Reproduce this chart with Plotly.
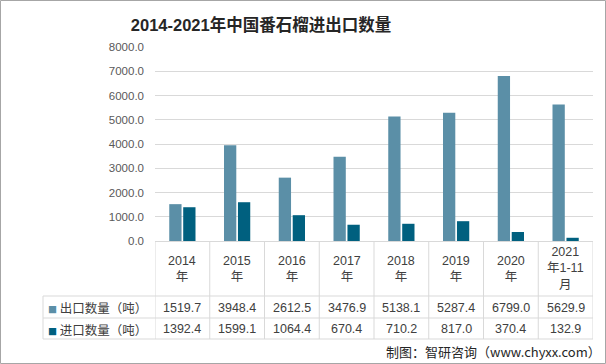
import plotly.graph_objects as go

categories = ["2014年", "2015年", "2016年", "2017年", "2018年", "2019年", "2020年", "2021年1-11月"]
header_labels = ["2014<br>年", "2015<br>年", "2016<br>年", "2017<br>年", "2018<br>年", "2019<br>年", "2020<br>年", "2021<br>年1-11<br>月"]
export_vals = [1519.7, 3948.4, 2612.5, 3476.9, 5138.1, 5287.4, 6799.0, 5629.9]
import_vals = [1392.4, 1599.1, 1064.4, 670.4, 710.2, 817.0, 370.4, 132.9]
series_names = ["出口数量（吨）", "进口数量（吨）"]
y_ticks = [0, 1000, 2000, 3000, 4000, 5000, 6000, 7000, 8000]

C_EXP = "#5B8FA7"
C_IMP = "#00607F"
TXT = "#404040"
GRID = "#D9D9D9"
FONT = "Liberation Sans, Noto Sans CJK SC, sans-serif"
CJK = "Noto Sans CJK SC, sans-serif"

W, H = 606, 364
L, R, T, B = 155, 13, 47, 123
PH = H - T - B  # 194


def py(pix):
    return (H - B - pix) / PH


def px(pix):
    return (pix - L) / (W - L - R)


fig = go.Figure()
fig.add_trace(go.Bar(x=categories, y=export_vals, name=series_names[0], marker_color=C_EXP,
                     marker_line_width=0))
fig.add_trace(go.Bar(x=categories, y=import_vals, name=series_names[1], marker_color=C_IMP,
                     marker_line_width=0))

shapes = []
ann = []
n = len(categories)
for i in range(n + 1):
    shapes.append(dict(type="line", xref="x", yref="paper", x0=i - 0.5, x1=i - 0.5,
                       y0=0, y1=py(339), line=dict(color=GRID, width=1)))
for yy in [296, 318, 339]:
    shapes.append(dict(type="line", xref="paper", yref="paper", x0=px(43), x1=1,
                       y0=py(yy), y1=py(yy), line=dict(color=GRID, width=1)))
shapes.append(dict(type="line", xref="paper", yref="paper", x0=px(43), x1=px(43),
                   y0=py(296), y1=py(339), line=dict(color=GRID, width=1)))
shapes.append(dict(type="rect", xref="paper", yref="paper", x0=px(0.5), x1=px(W - 0.5),
                   y0=py(H - 0.5), y1=py(0.5), line=dict(color="#A6A6A6", width=1)))

for i, cat in enumerate(categories):
    lab = header_labels[i]
    nlines = lab.count("<br>") + 1
    cy = 268.5 if nlines == 3 else 269
    ann.append(dict(x=cat, y=py(cy), xref="x", yref="paper", text=lab, showarrow=False,
                    font=dict(size=12.5, color=TXT, family=FONT), align="center",
                    yanchor="middle"))
    ann.append(dict(x=cat, y=py(307.5), xref="x", yref="paper", text=f"{export_vals[i]:.1f}",
                    showarrow=False, font=dict(size=12.5, color=TXT, family=FONT), yanchor="middle"))
    ann.append(dict(x=cat, y=py(329), xref="x", yref="paper", text=f"{import_vals[i]:.1f}",
                    showarrow=False, font=dict(size=12.5, color=TXT, family=FONT), yanchor="middle"))

for nm, col, yy in [(series_names[0], C_EXP, 307.5), (series_names[1], C_IMP, 329)]:
    ann.append(dict(x=px(46), y=py(yy), xref="paper", yref="paper",
                    text=f"<span style='color:{col};font-size:9px'>■</span> {nm}",
                    showarrow=False, xanchor="left", yanchor="middle",
                    font=dict(size=12.5, color=TXT, family=CJK)))

ann.append(dict(x=px(603), y=py(351.5), xref="paper", yref="paper",
                text="制图：智研咨询（www.chyxx.com）", showarrow=False, xanchor="right",
                yanchor="middle", font=dict(size=13, color="#262626", family=CJK)))

fig.update_layout(
    width=W, height=H,
    margin=dict(l=L, r=R, t=T, b=B, pad=0),
    paper_bgcolor="white", plot_bgcolor="white",
    title=dict(text="<b>2014-2021年中国番石榴进出口数量</b>", x=px(261), xref="paper",
               xanchor="center", y=1 - 25 / H, yanchor="middle",
               font=dict(size=16.5, color="#262626", family=FONT)),
    showlegend=False,
    barmode="group", bargap=0.49, bargroupgap=0.12,
    xaxis=dict(showticklabels=False, showline=True, linecolor=GRID, ticks="",
               showgrid=False, range=[-0.5, n - 0.5]),
    yaxis=dict(range=[0, 8000], tickvals=y_ticks, tickformat=".1f", showgrid=True,
               gridcolor=GRID, zeroline=False, showline=False, ticks="",
               ticklabelstandoff=10,
               tickfont=dict(size=11.5, color="#595959", family=FONT)),
    shapes=shapes, annotations=ann,
)

fig.write_html("out.html", config={"displayModeBar": False},
               post_script="document.body.style.margin='0';document.body.style.overflow='hidden';")
